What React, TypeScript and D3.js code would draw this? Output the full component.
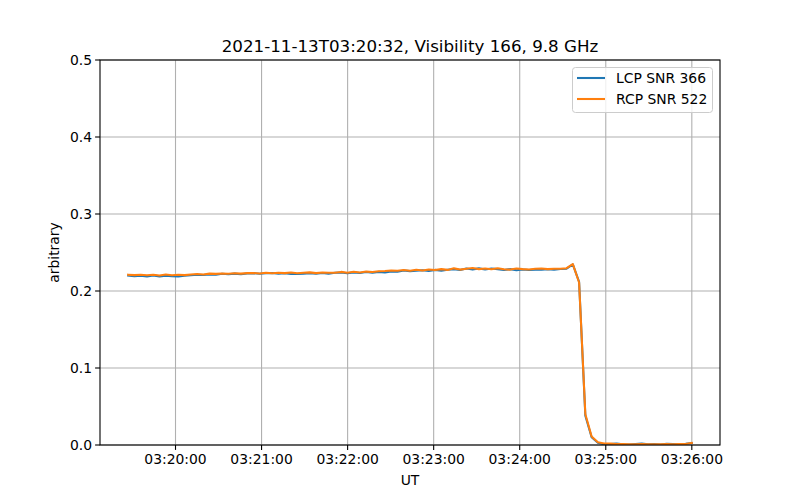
import React from "react";
import * as d3 from "d3";

const title = "2021-11-13T03:20:32, Visibility 166, 9.8 GHz";
const startTime = "2021-11-13T03:19:27Z";
const endTime = "2021-11-13T03:26:00Z";
const xTickLabels = ["03:20:00", "03:21:00", "03:22:00", "03:23:00", "03:24:00", "03:25:00", "03:26:00"];
const yTicks = [0, 0.1, 0.2, 0.3, 0.4, 0.5];
const seriesNames = ["LCP SNR 366", "RCP SNR 522"];

const lcp = [
  0.2200, 0.2192, 0.2198, 0.2190, 0.2203, 0.2190, 0.2200, 0.2192, 0.2188, 0.2198,
  0.2205, 0.2212, 0.2208, 0.2216, 0.2212, 0.2225, 0.2218, 0.2226, 0.2218, 0.2228,
  0.2232, 0.2224, 0.2230, 0.2234, 0.2226, 0.2230, 0.2220, 0.2222, 0.2226, 0.2232,
  0.2226, 0.2234, 0.2224, 0.2236, 0.2240, 0.2230, 0.2242, 0.2234, 0.2246, 0.2236,
  0.2248, 0.2240, 0.2254, 0.2250, 0.2266, 0.2258, 0.2262, 0.2270, 0.2260, 0.2274,
  0.2264, 0.2276, 0.2284, 0.2272, 0.2292, 0.2278, 0.2294, 0.2280, 0.2292, 0.2284,
  0.2272, 0.2284, 0.2270, 0.2280, 0.2272, 0.2278, 0.2276, 0.2284, 0.2278, 0.2286,
  0.2290, 0.2345, 0.2120, 0.0380, 0.0100, 0.0030, 0.0008, 0.0012, 0.0018, 0.0010,
  0.0005, 0.0014, 0.0020, 0.0008, 0.0014, 0.0006, 0.0016, 0.0014, 0.0010, 0.0016,
  0.0025,
];

const rcp = [
  0.2212, 0.2206, 0.2210, 0.2204, 0.2212, 0.2202, 0.2214, 0.2204, 0.2212, 0.2206,
  0.2214, 0.2220, 0.2214, 0.2226, 0.2222, 0.2228, 0.2224, 0.2230, 0.2226, 0.2232,
  0.2234, 0.2228, 0.2238, 0.2230, 0.2238, 0.2232, 0.2240, 0.2230, 0.2236, 0.2242,
  0.2232, 0.2240, 0.2238, 0.2236, 0.2248, 0.2238, 0.2250, 0.2240, 0.2252, 0.2246,
  0.2256, 0.2260, 0.2266, 0.2262, 0.2272, 0.2264, 0.2276, 0.2266, 0.2280, 0.2272,
  0.2284, 0.2274, 0.2294, 0.2278, 0.2288, 0.2298, 0.2284, 0.2292, 0.2282, 0.2296,
  0.2282, 0.2278, 0.2292, 0.2284, 0.2280, 0.2288, 0.2292, 0.2284, 0.2290, 0.2288,
  0.2296, 0.2350, 0.2110, 0.0400, 0.0110, 0.0035, 0.0020, 0.0018, 0.0012, 0.0012,
  0.0008, 0.0010, 0.0012, 0.0008, 0.0010, 0.0010, 0.0012, 0.0010, 0.0012, 0.0014,
  0.0028,
];

const colors = ["#1f77b4", "#ff7f0e"];

const W = 800, H = 500;
const M = { left: 100, right: 720, top: 60, bottom: 445 };

export default function App() {
  const t0 = new Date(startTime).getTime();
  const t1 = new Date(endTime).getTime();
  const n = lcp.length;
  const times = lcp.map((_, i) => new Date(t0 + ((t1 - t0) * i) / (n - 1)));
  const pad = (t1 - t0) * 0.05;
  const x = d3.scaleUtc().domain([new Date(t0 - pad), new Date(t1 + pad)]).range([M.left, M.right]);
  const y = d3.scaleLinear().domain([0, 0.5]).range([M.bottom, M.top]);
  const xTicks = xTickLabels.map((s) => new Date(`2021-11-13T${s}Z`));
  const fmt = d3.utcFormat("%H:%M:%S");
  const line = d3
    .line<number>()
    .x((_, i) => x(times[i]))
    .y((d) => y(d));
  const font = "DejaVu Sans, sans-serif";
  const series = [lcp, rcp];

  return (
    <svg width={W} height={H} style={{ position: "absolute", left: 0, top: 0, background: "#fff" }} fontFamily={font}>
      <rect x={0} y={0} width={W} height={H} fill="#fff" />
      {xTicks.map((t, i) => (
        <line key={"gx" + i} x1={x(t)} x2={x(t)} y1={M.top} y2={M.bottom} stroke="#b0b0b0" strokeWidth={1.1} />
      ))}
      {yTicks.map((v, i) => (
        <line key={"gy" + i} x1={M.left} x2={M.right} y1={y(v)} y2={y(v)} stroke="#b0b0b0" strokeWidth={1.1} />
      ))}
      <clipPath id="clip">
        <rect x={M.left} y={M.top} width={M.right - M.left} height={M.bottom - M.top} />
      </clipPath>
      {series.map((s, k) => (
        <path key={"s" + k} d={line(s) || ""} fill="none" stroke={colors[k]} strokeWidth={2.08} strokeLinejoin="round" strokeLinecap="square" clipPath="url(#clip)" />
      ))}
      <rect x={M.left} y={M.top} width={M.right - M.left} height={M.bottom - M.top} fill="none" stroke="#000" strokeWidth={1.1} />
      {xTicks.map((t, i) => (
        <g key={"xt" + i} transform={`translate(${x(t)},${M.bottom})`}>
          <line y1={0} y2={4.9} stroke="#000" strokeWidth={1.1} />
          <text y={19} textAnchor="middle" fontSize={13.9} fill="#000">{fmt(t)}</text>
        </g>
      ))}
      {yTicks.map((v, i) => (
        <g key={"yt" + i} transform={`translate(${M.left},${y(v)})`}>
          <line x1={0} x2={-4.9} stroke="#000" strokeWidth={1.1} />
          <text x={-8} dy="0.35em" textAnchor="end" fontSize={13.9} fill="#000">{v.toFixed(1)}</text>
        </g>
      ))}
      <text x={(M.left + M.right) / 2} y={485} textAnchor="middle" fontSize={13.9} fill="#000">UT</text>
      <text transform={`translate(59,${(M.top + M.bottom) / 2}) rotate(-90)`} textAnchor="middle" fontSize={13.9} fill="#000">arbitrary</text>
      <text x={(M.left + M.right) / 2} y={52} textAnchor="middle" fontSize={16.7} fill="#000">{title}</text>
      <g>
        <rect x={572.5} y={67.5} width={140} height={45} rx={3} fill="#fff" fillOpacity={0.8} stroke="#cccccc" strokeWidth={1} />
        {seriesNames.map((name, k) => (
          <g key={"lg" + k} transform={`translate(577,${78 + k * 21})`}>
            <line x1={0} x2={28} y1={0} y2={0} stroke={colors[k]} strokeWidth={2.08} />
            <text x={39} dy="0.35em" fontSize={13.9} fill="#000">{name}</text>
          </g>
        ))}
      </g>
    </svg>
  );
}
